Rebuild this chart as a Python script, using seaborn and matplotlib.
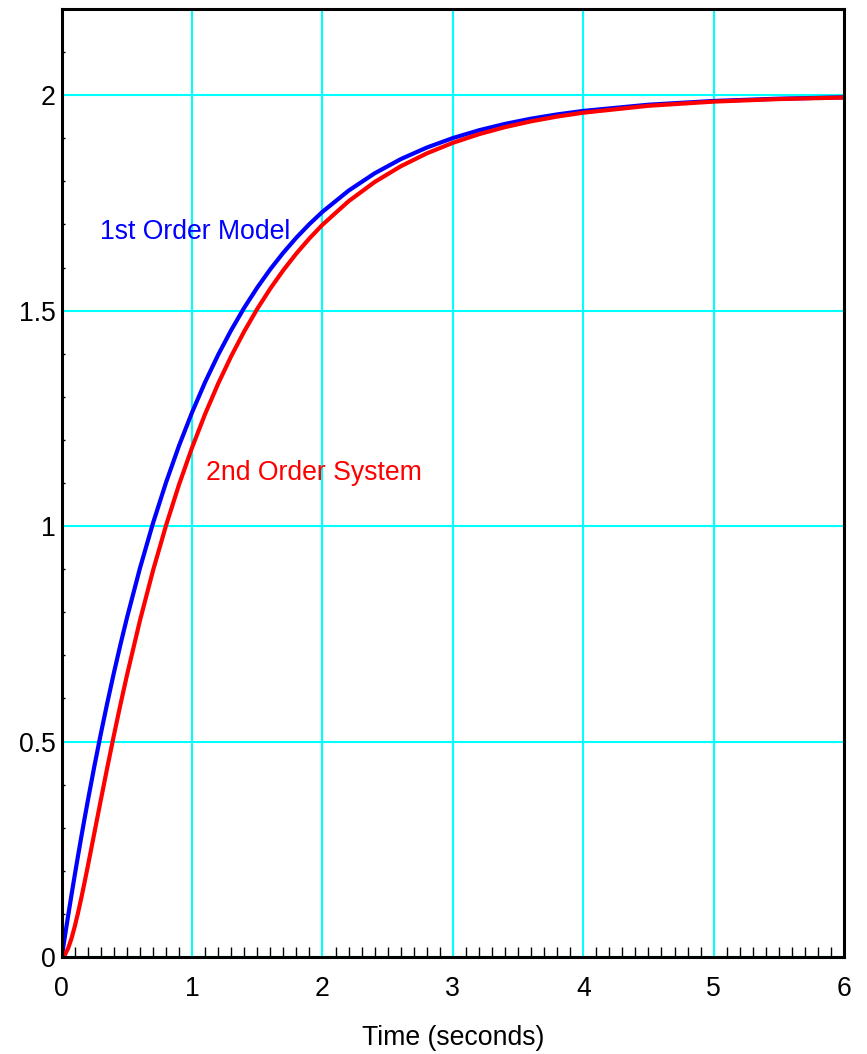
import matplotlib
matplotlib.use("Agg")
import matplotlib.pyplot as plt
from matplotlib.ticker import MultipleLocator
import pandas as pd
import seaborn as sns

# Sample times (seconds)
time_s = [0, 0.025, 0.05, 0.075, 0.1, 0.125, 0.15, 0.175, 0.2, 0.25, 0.3,
          0.35, 0.4, 0.45, 0.5, 0.6, 0.7, 0.8, 0.9, 1.0, 1.1, 1.2, 1.3, 1.4,
          1.5, 1.6, 1.7, 1.8, 1.9, 2.0, 2.2, 2.4, 2.6, 2.8, 3.0, 3.2, 3.4,
          3.6, 3.8, 4.0, 4.5, 5.0, 5.5, 6.0]

# Step response of the first-order model
first_order = [0, 0.0494, 0.0975, 0.1445, 0.1903, 0.2350, 0.2786, 0.3211,
               0.3625, 0.4424, 0.5184, 0.5906, 0.6594, 0.7247, 0.7869, 0.9024,
               1.0068, 1.1013, 1.1869, 1.2642, 1.3343, 1.3976, 1.4549, 1.5068,
               1.5537, 1.5962, 1.6346, 1.6694, 1.7009, 1.7293, 1.7784, 1.8186,
               1.8515, 1.8784, 1.9004, 1.9185, 1.9333, 1.9454, 1.9553, 1.9634,
               1.9778, 1.9865, 1.9918, 1.9950]

# Step response of the second-order system
second_order = [0, 0.0057, 0.0209, 0.0433, 0.0710, 0.1026, 0.1369, 0.1732,
                0.2107, 0.2876, 0.3648, 0.4407, 0.5145, 0.5855, 0.6537, 0.7810,
                0.8967, 1.0016, 1.0965, 1.1825, 1.2603, 1.3307, 1.3944, 1.4520,
                1.5042, 1.5513, 1.5940, 1.6327, 1.6676, 1.6993, 1.7538, 1.7984,
                1.8349, 1.8649, 1.8894, 1.9094, 1.9258, 1.9393, 1.9503, 1.9593,
                1.9753, 1.9850, 1.9909, 1.9945]

x_ticks = [0, 1, 2, 3, 4, 5, 6]
y_ticks = [0, 0.5, 1, 1.5, 2]
y_tick_labels = ["0", "0.5", "1", "1.5", "2"]

sns.set_style("white")
plt.rcParams["font.family"] = ["Liberation Sans", "DejaVu Sans"]

fig = plt.figure(figsize=(8.67, 10.54), dpi=100)
ax = fig.add_axes([0.0712, 0.0920, 0.9023, 0.8995])

df = pd.DataFrame({"t": time_s, "first": first_order, "second": second_order})

sns.lineplot(data=df, x="t", y="first", ax=ax, color="#0000ff", lw=3.0,
             sort=False, estimator=None, zorder=3,
             solid_joinstyle="round", solid_capstyle="round")
sns.lineplot(data=df, x="t", y="second", ax=ax, color="#ff0000", lw=3.0,
             sort=False, estimator=None, zorder=4,
             solid_joinstyle="round", solid_capstyle="round")

ax.set_xlim(0, 6)
ax.set_ylim(0, 2.2)

ax.set_xticks(x_ticks)
ax.set_xticklabels([str(v) for v in x_ticks])
ax.set_yticks(y_ticks)
ax.set_yticklabels(y_tick_labels)
ax.xaxis.set_minor_locator(MultipleLocator(0.1))
ax.yaxis.set_minor_locator(MultipleLocator(0.1))

ax.grid(True, which="major", color="#00ffff", lw=1.5, zorder=1)
ax.set_axisbelow(True)

ax.tick_params(axis="both", which="major", length=0, labelsize=19.2,
               labelcolor="black")
ax.tick_params(axis="x", which="major", pad=14)
ax.tick_params(axis="y", which="major", pad=4.5)
ax.tick_params(axis="x", which="minor", direction="in", length=7.5,
               width=1.0, color="black", bottom=True, top=False)
ax.tick_params(axis="y", which="minor", direction="in", length=2.5,
               width=1.0, color="black", left=True, right=False)

for side in ["left", "right", "top", "bottom"]:
    ax.spines[side].set_visible(True)
    ax.spines[side].set_color("black")
    ax.spines[side].set_linewidth(2.2)
    ax.spines[side].set_zorder(5)

ax.set_xlabel("Time (seconds)", fontsize=19.2, labelpad=16, color="black")
ax.set_ylabel("")

ax.text(0.294, 1.667, "1st Order Model", color="#0000ff", fontsize=19.2,
        ha="left", va="baseline")
ax.text(1.107, 1.107, "2nd Order System", color="#ff0000", fontsize=19.2,
        ha="left", va="baseline")

fig.savefig("out.png", dpi=100)
